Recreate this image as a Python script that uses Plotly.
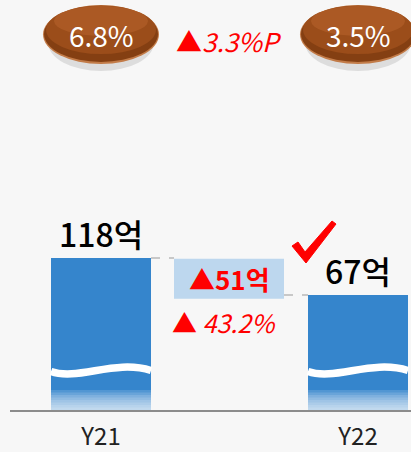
import plotly.graph_objects as go

# ---- data ----
categories = ["Y21", "Y22"]
values = [118, 67]
value_labels = ["118억", "67억"]
ratio_labels = ["6.8%", "3.5%"]
ratio_diff_label = "▲<i>3.3%P</i>"
diff_label = "<b>▲51억</b>"
pct_label = "▲ <i>43.2%</i>"

# ---- layout constants (broken axis) ----
W, H = 411, 452
ML, MR, MT, MB = 10, 0, 0, 42
PLOT_H = H - MT - MB            # 410
X0_PX, X1_PX = 101, 358         # category centers
PXU = X1_PX - X0_PX             # px per category unit
Y_FLOOR = -91.5                 # truncated axis floor
PX_PER_V = 0.7255
Y_TOP = Y_FLOOR + PLOT_H / PX_PER_V
BAR_W = 100 / PXU

FONT = "Noto Sans CJK KR, Noto Sans, sans-serif"
RED = "#ff0000"
BLUE = "#3585cc"


def px2x(px):
    return (px - X0_PX) / PXU


def py2v(py):
    return Y_FLOOR + (MT + PLOT_H - py) / PX_PER_V


fig = go.Figure()
fig.add_trace(go.Bar(
    x=[0, 1], y=[v - Y_FLOOR for v in values], base=Y_FLOOR,
    width=BAR_W, marker=dict(color=BLUE, line=dict(width=0)),
    hoverinfo="skip", showlegend=False,
))

shapes = []
annotations = []


def ell(cx, l, r, t, b, color, opacity=1.0):
    d = lambda px: px2x(px) - px2x(101)
    return dict(type="circle", xref="x", yref="y",
                x0=cx + d(l), x1=cx + d(r), y0=py2v(b), y1=py2v(t),
                fillcolor=color, opacity=opacity, line=dict(width=0))


for i, v in enumerate(values):
    xl, xr = i - BAR_W / 2, i + BAR_W / 2
    # bottom fade
    for k in range(8):
        shapes.append(dict(type="rect", xref="x", yref="y",
                           x0=xl, x1=xr, y0=Y_FLOOR, y1=py2v(390 + 2.5 * k),
                           fillcolor="white", opacity=0.14, line=dict(width=0), layer="above"))
    # wave (axis break)
    p = [(51, 371.5), (78, 381), (115, 359), (151, 370.5)]
    pts = [(px2x(a + 257 * i), py2v(b)) for a, b in p]
    path = "M {} {} C {} {}, {} {}, {} {}".format(
        pts[0][0], pts[0][1], pts[1][0], pts[1][1], pts[2][0], pts[2][1], pts[3][0], pts[3][1])
    shapes.append(dict(type="path", xref="x", yref="y", path=path,
                       line=dict(color="white", width=7.5), layer="above"))
    # value label
    annotations.append(dict(x=i, y=v, xref="x", yref="y", text=value_labels[i],
                            showarrow=False, yanchor="bottom", yshift=0,
                            font=dict(family=FONT, size=32, color="#000000", weight=500)))
    # ratio ellipses
    shapes.append(ell(i, 48, 154, 14, 71, "rgba(0,0,0,0.10)"))
    shapes.append(ell(i, 43, 159, 5, 64, "#c27b48"))
    shapes.append(ell(i, 44, 158, 6, 62, "#843f12"))
    shapes.append(ell(i, 46, 156, 5.5, 54, "#9b4d1a"))
    shapes.append(ell(i, 54, 148, 6, 36, "#b5632b", 0.6))
    annotations.append(dict(x=i, y=py2v(35), xref="x", yref="y",
                            text=ratio_labels[i], showarrow=False, yanchor="middle",
                            font=dict(family=FONT, size=28, color="white")))

# connectors and difference box
bar_r = BAR_W / 2
box_l, box_r = px2x(174), px2x(284)
shapes.append(dict(type="line", xref="x", yref="y", x0=bar_r, x1=box_l, y0=values[0], y1=values[0],
                   line=dict(color="#999999", width=1.2, dash="dash")))
shapes.append(dict(type="line", xref="x", yref="y", x0=box_r, x1=1 - bar_r, y0=values[1], y1=values[1],
                   line=dict(color="#999999", width=1.2, dash="dash")))
shapes.append(dict(type="rect", xref="x", yref="y", x0=box_l, x1=box_r,
                   y0=values[1] - 5, y1=values[0] - 1,
                   fillcolor="#bdd7ee", line=dict(width=0)))
annotations.append(dict(x=(box_l + box_r) / 2, y=(values[0] + values[1]) / 2 - 3, xref="x", yref="y",
                        text=diff_label, showarrow=False, yanchor="middle",
                        font=dict(family=FONT, size=26, color=RED)))
annotations.append(dict(x=px2x(224), y=py2v(322), xref="x", yref="y",
                        text=pct_label, showarrow=False, yanchor="middle",
                        font=dict(family=FONT, size=25, color=RED)))
annotations.append(dict(x=px2x(229), y=py2v(40), xref="x", yref="y",
                        text=ratio_diff_label, showarrow=False, yanchor="middle",
                        font=dict(family=FONT, size=26, color=RED)))

# check mark
chk = [(292, 246), (298, 242), (305, 252), (332, 221), (336, 224), (306, 263)]
cpath = "M " + " L ".join("{} {}".format(px2x(a), py2v(b)) for a, b in chk) + " Z"
shapes.append(dict(type="path", xref="x", yref="y", path=cpath,
                   fillcolor=RED, line=dict(color=RED, width=1)))

fig.update_layout(
    width=W, height=H,
    margin=dict(l=ML, r=MR, t=MT, b=MB),
    paper_bgcolor="#f7f7f7", plot_bgcolor="#f7f7f7",
    shapes=shapes, annotations=annotations,
    xaxis=dict(range=[px2x(ML), px2x(W - MR)], tickvals=[0, 1], ticktext=categories,
               showgrid=False, zeroline=False, showline=True, linecolor="#8c8c8c", linewidth=2,
               ticks="outside", ticklen=4, tickcolor="rgba(0,0,0,0)",
               tickfont=dict(family=FONT, size=24, color="#222222"), fixedrange=True),
    yaxis=dict(range=[Y_FLOOR, Y_TOP], visible=False, fixedrange=True),
    bargap=0, showlegend=False,
)

fig.write_html("out.html", config={"displayModeBar": False},
               post_script="document.body.style.margin='0';document.body.style.background='#f7f7f7';")
